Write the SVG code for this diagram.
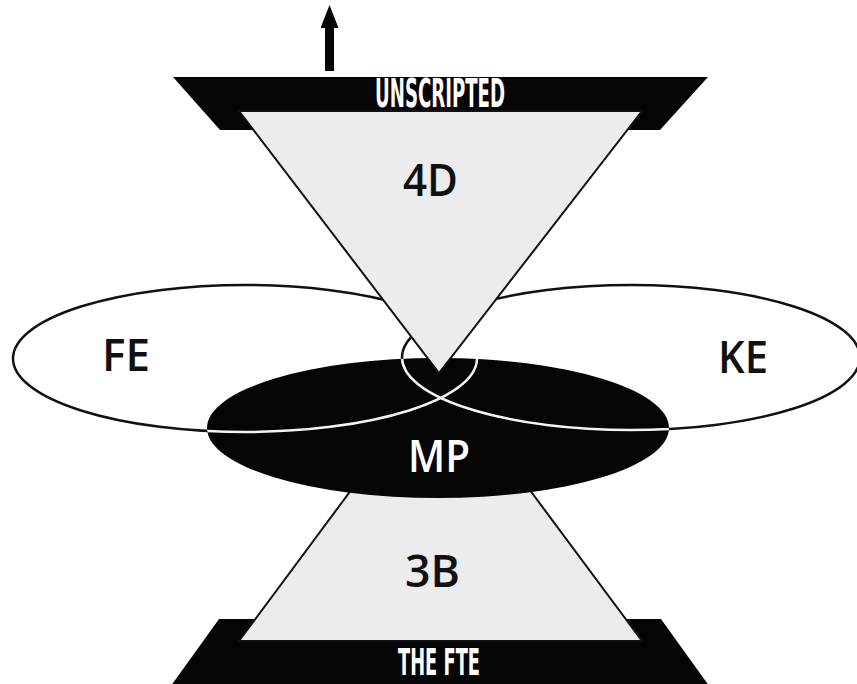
<svg xmlns="http://www.w3.org/2000/svg" width="857" height="684" viewBox="0 0 857 684">
<style>
.lbl{font-family:"Open Sans","Liberation Sans","DejaVu Sans",sans-serif;font-weight:600;font-size:45px;fill:#111;text-anchor:middle}
.band{font-family:"Liberation Sans Narrow","DejaVu Sans Condensed","Liberation Sans",sans-serif;font-weight:bold;fill:#fff;text-anchor:middle}
.ell{fill:#fff;stroke:#111;stroke-width:2.5}
.ellw{fill:none;stroke:#f4f4f4;stroke-width:2.5}
.gray{fill:#ececee;stroke:#111;stroke-width:2;stroke-linejoin:miter}
.blk{fill:#050505}
</style>
<defs>
<marker id="ah" viewBox="0 0 23 18" markerWidth="23" markerHeight="18" refX="0" refY="9" orient="auto" markerUnits="userSpaceOnUse">
<path d="M0,0 L23,9 L0,18 z" fill="#050505"/>
</marker>
<clipPath id="mpclip"><ellipse cx="438" cy="428" rx="231" ry="70"/></clipPath>
</defs>
<rect width="857" height="684" fill="#fff"/>
<g id="FE">
<ellipse class="ell" cx="245" cy="358.5" rx="232" ry="73.5"/>
</g>
<g id="KE">
<ellipse class="ell" cx="631" cy="357.5" rx="229" ry="72.5"/>
</g>
<g id="THE_FTE">
<polygon class="blk" points="219,619 661,619 712,690 168,690"/>
</g>
<g id="B3">
<polygon class="gray" points="239,641 642,641 512,466 369,466"/>
</g>
<g id="MP">
<ellipse class="blk" cx="438" cy="428" rx="231" ry="70"/>
<g clip-path="url(#mpclip)">
<ellipse class="ellw" cx="245" cy="358.5" rx="232" ry="73.5"/>
<ellipse class="ellw" cx="631" cy="357.5" rx="229" ry="72.5"/>
</g>
</g>
<g id="UNSCRIPTED">
<polygon class="blk" points="173,77 708,77 660,130 220,130"/>
</g>
<g id="D4">
<polygon class="gray" points="239,111 642,111 439,373"/>
</g>
<g id="connectors">
<line x1="329.5" y1="71" x2="329.5" y2="28" stroke="#050505" stroke-width="9" marker-end="url(#ah)"/>
</g>
<g id="labels">
<text class="band" x="440" y="107" font-size="39" textLength="130" lengthAdjust="spacingAndGlyphs">UNSCRIPTED</text>
<text class="band" x="439" y="675" font-size="37" textLength="82" lengthAdjust="spacingAndGlyphs">THE FTE</text>
<text class="lbl" x="430.5" y="196" textLength="55" lengthAdjust="spacingAndGlyphs">4D</text>
<text class="lbl" x="432.5" y="587" textLength="55" lengthAdjust="spacingAndGlyphs">3B</text>
<text class="lbl" x="126" y="371" textLength="48" lengthAdjust="spacingAndGlyphs">FE</text>
<text class="lbl" x="743" y="373" textLength="50" lengthAdjust="spacingAndGlyphs">KE</text>
<text class="lbl" x="439" y="472" style="fill:#fff" textLength="62" lengthAdjust="spacingAndGlyphs">MP</text>
</g>
</svg>
